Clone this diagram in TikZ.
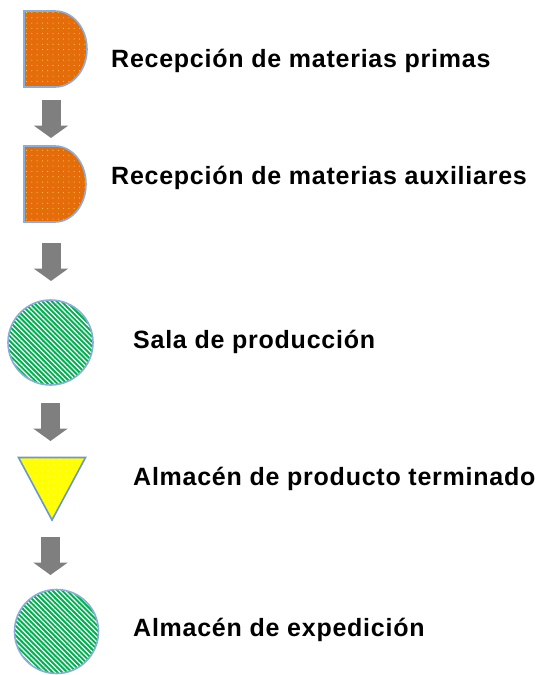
\documentclass[tikz,border=0pt]{standalone}
\usepackage{fontspec}
\setmainfont{Liberation Sans}
\newfontfamily\lblfont{Liberation Sans}[LetterSpace=3]
\usetikzlibrary{patterns.meta,arrows.meta}
\definecolor{orangefill}{HTML}{E46C0A}
\definecolor{greenfill}{HTML}{00B050}
\definecolor{yellowfill}{HTML}{FFFF00}
\definecolor{dotyellow}{HTML}{F5D83A}
\definecolor{outline}{HTML}{8AAEDC}
\definecolor{triline}{HTML}{6A96D2}
\definecolor{arrowgray}{HTML}{7F7F7F}
\tikzset{
  lbl/.style={anchor=base west, inner sep=0pt, font=\lblfont\bfseries\fontsize{25pt}{29pt}\selectfont, text=black},
  outl/.style={draw=outline, line width=1.6pt},
  orangedots/.style={fill=orangefill, postaction={pattern={Dots[radius=0.55pt, distance=5.3pt]}, pattern color=dotyellow}},
  greenlines/.style={fill=greenfill, postaction={pattern={Lines[angle=-45, distance=3.4pt, line width=1.2pt]}, pattern color=white}},
  yellowdots/.style={fill=yellowfill, postaction={pattern={Dots[radius=0.5pt, distance=6pt]}, pattern color=white}},
  blockarrow/.style={draw=arrowgray, line width=19pt, -{Triangle[length=12.5pt, width=34pt]}}
}
\begin{document}
\begin{tikzpicture}[x=1pt, y=-1pt]
\useasboundingbox (0,0) rectangle (545,675);
% shapes
\path[orangedots] (24,11) -- (55,11) arc[start angle=-90, end angle=90, x radius=32, y radius=38] -- (24,87) -- cycle;
\draw[outl] (24,11) -- (55,11) arc[start angle=-90, end angle=90, x radius=32, y radius=38] -- (24,87) -- cycle;
\path[orangedots] (24,146) -- (55,146) arc[start angle=-90, end angle=90, x radius=31, y radius=38] -- (24,222) -- cycle;
\draw[outl] (24,146) -- (55,146) arc[start angle=-90, end angle=90, x radius=31, y radius=38] -- (24,222) -- cycle;
\path[greenlines] (50.5,342.5) circle[radius=42.5];
\draw[outl] (50.5,342.5) circle[radius=42.5];
\path[yellowdots] (18.5,457.5) -- (85.5,457.5) -- (52,520) -- cycle;
\draw[outl, draw=triline, line join=miter] (18.5,457.5) -- (85.5,457.5) -- (52,520) -- cycle;
\path[greenlines] (56.5,631.5) circle[radius=42];
\draw[outl] (56.5,631.5) circle[radius=42];
% arrow end points
\coordinate (a1s) at (51,100);
\coordinate (a1e) at (51,138);
\coordinate (a2s) at (51,243);
\coordinate (a2e) at (51,281);
\coordinate (a3s) at (50.5,403);
\coordinate (a3e) at (50.5,441);
\coordinate (a4s) at (50.5,537);
\coordinate (a4e) at (50.5,575);
\draw[blockarrow] (a1s) -- (a1e);
\draw[blockarrow] (a2s) -- (a2e);
\draw[blockarrow] (a3s) -- (a3e);
\draw[blockarrow] (a4s) -- (a4e);
% labels
\node[lbl] (t1) at (111,67) {Recepción de materias primas};
\node[lbl] (t2) at (111,184) {Recepción de materias auxiliares};
\node[lbl] (t3) at (133,348) {Sala de producción};
\node[lbl] (t4) at (133,485) {Almacén de producto terminado};
\node[lbl] (t5) at (133,636) {Almacén de expedición};
\end{tikzpicture}
\end{document}
